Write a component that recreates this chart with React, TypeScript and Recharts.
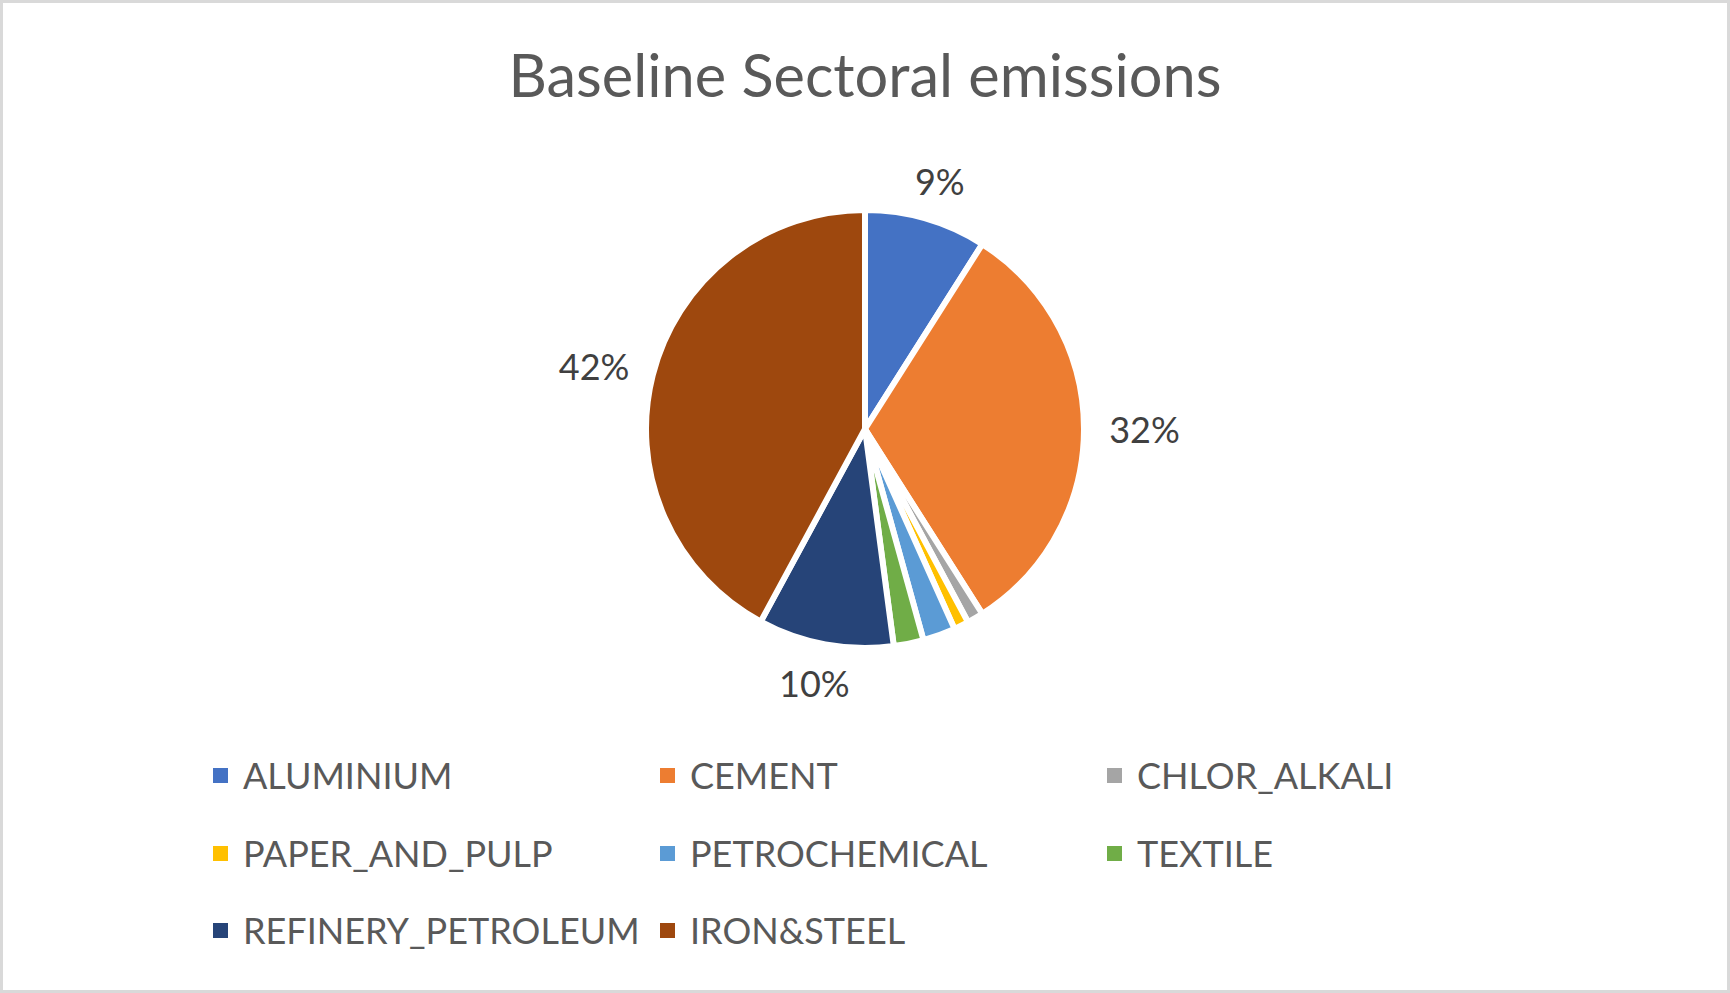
import React from 'react';
import { PieChart, Pie, Cell, Legend } from 'recharts';

// sector shares of baseline emissions (percent)
const sectors = [
    'ALUMINIUM',
    'CEMENT',
    'CHLOR_ALKALI',
    'PAPER_AND_PULP',
    'PETROCHEMICAL',
    'TEXTILE',
    'REFINERY_PETROLEUM',
    'IRON&STEEL',
];
const shares = [9.0, 32.0, 1.2, 1.1, 2.4, 2.2, 10.0, 42.1];
const colors = ['#4472C4', '#ED7D31', '#A5A5A5', '#FFC000', '#5B9BD5', '#70AD47', '#264478', '#9E480E'];

const data = sectors.map((name, i) => ({ name, value: shares[i] }));

const FONT = 'Lato, "Open Sans", sans-serif';
const RADIAN = Math.PI / 180;

// outside-end labels, only the big slices get one
const renderLabel = ({ cx, cy, midAngle, outerRadius, percent }: any) => {
    if (percent < 0.05) return null;
    const text = `${Math.round(percent * 100)}%`;
    const cos = Math.cos(-midAngle * RADIAN);
    const sin = Math.sin(-midAngle * RADIAN);
    const r = outerRadius + 26;
    const halfW = text.length * 11.5;
    const x = cx + r * cos + cos * halfW;
    const y = cy + r * sin + sin * 13;
    return (
        <text
            x={x}
            y={y}
            fill="#404040"
            fontSize={36}
            fontFamily={FONT}
            textAnchor="middle"
            dominantBaseline="central"
        >
            {text}
        </text>
    );
};

// legend in Excel order, three per row
const LegendGrid = () => (
    <div style={{ position: 'relative', width: 1730, height: 240 }}>
        {sectors.map((name, i) => (
            <div
                key={name}
                style={{
                    position: 'absolute',
                    left: 213 + (i % 3) * 447,
                    top: Math.floor(i / 3) * 77.5,
                    display: 'flex',
                    alignItems: 'center',
                    height: 37,
                }}
            >
                <span style={{ width: 15, height: 15, background: colors[i], marginRight: 15 }} />
                <span style={{ fontFamily: FONT, fontSize: 36, lineHeight: '37px', color: '#595959', whiteSpace: 'nowrap' }}>
                    {name}
                </span>
            </div>
        ))}
    </div>
);

export default function App() {
    return (
        <div
            style={{
                position: 'absolute',
                left: 0,
                top: 0,
                width: 1730,
                height: 993,
                background: '#fff',
                boxShadow: 'inset 0 0 0 3px #d9d9d9',
            }}
        >
            <div
                style={{
                    position: 'absolute',
                    left: 0,
                    top: 44,
                    width: 1730,
                    textAlign: 'center',
                    fontFamily: FONT,
                    fontSize: 59.5,
                    lineHeight: '60px',
                    color: '#595959',
                }}
            >
                Baseline Sectoral emissions
            </div>
            <PieChart width={1730} height={993} margin={{ top: 0, right: 0, bottom: 0, left: 0 }}>
                <Pie
                    data={data}
                    dataKey="value"
                    nameKey="name"
                    cx={865}
                    cy={429}
                    outerRadius={219}
                    startAngle={90}
                    endAngle={-270}
                    stroke="#fff"
                    strokeWidth={6}
                    label={renderLabel}
                    labelLine={false}
                    isAnimationActive={false}
                >
                    {data.map((d, i) => (
                        <Cell key={d.name} fill={colors[i]} />
                    ))}
                </Pie>
                <Legend
                    content={<LegendGrid />}
                    wrapperStyle={{ position: 'absolute', left: 0, top: 757, width: 1730 }}
                />
            </PieChart>
        </div>
    );
}
